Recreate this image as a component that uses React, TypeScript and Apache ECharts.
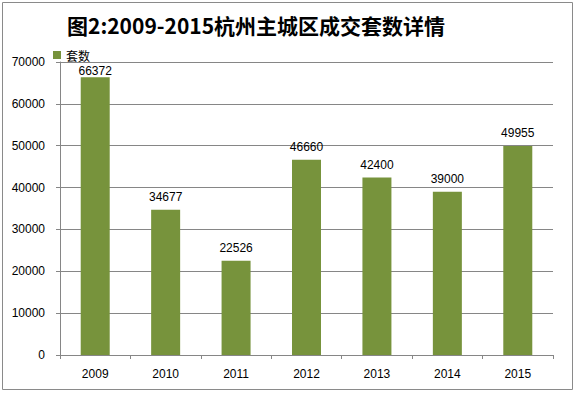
import React, { useEffect, useRef } from "react";
import * as echarts from "echarts";

const categories = ["2009", "2010", "2011", "2012", "2013", "2014", "2015"];
const values = [66372, 34677, 22526, 46660, 42400, 39000, 49955];
const seriesName = "套数";
const titleText = "图2:2009-2015杭州主城区成交套数详情";

export default function App() {
  const ref = useRef<HTMLDivElement>(null);
  useEffect(() => {
    const chart = echarts.init(ref.current!, null, { renderer: "svg" });
    chart.setOption({
      animation: false,
      backgroundColor: "#ffffff",
      graphic: [
        {
          type: "rect",
          shape: { x: 2.5, y: 2.5, width: 570, height: 387 },
          style: { fill: "none", stroke: "#8a8a8a", lineWidth: 1 },
          silent: true,
        },
      ],
      title: {
        text: titleText,
        left: 62,
        top: 9,
        textStyle: {
          fontFamily: "Noto Sans CJK SC",
          fontWeight: "bold",
          fontSize: 21,
          color: "#000",
        },
      },
      legend: {
        left: 48,
        top: 44,
        itemWidth: 8,
        itemHeight: 8,
        itemGap: 4,
        icon: "rect",
        data: [seriesName],
        textStyle: { fontFamily: "Noto Sans CJK SC", fontSize: 12, color: "#000" },
      },
      grid: { left: 60, right: 24, top: 62, bottom: 38, containLabel: false },
      xAxis: {
        type: "category",
        data: categories,
        axisLine: { lineStyle: { color: "#868686" } },
        axisTick: { show: true, length: 4, lineStyle: { color: "#868686" } },
        axisLabel: { fontFamily: "Liberation Sans", fontSize: 12, color: "#000", margin: 13 },
      },
      yAxis: {
        type: "value",
        min: 0,
        max: 70000,
        interval: 10000,
        axisLine: { show: true, lineStyle: { color: "#868686" } },
        axisTick: { show: true, length: 4, lineStyle: { color: "#868686" } },
        axisLabel: {
          fontFamily: "Liberation Sans",
          fontSize: 12,
          color: "#000",
          margin: 15,
          formatter: (v: number) => String(v),
        },
        splitLine: { lineStyle: { color: "#868686" } },
      },
      series: [
        {
          name: seriesName,
          type: "bar",
          barWidth: 29,
          itemStyle: { color: "#77933C" },
          data: values.map((v, i) =>
            i === 0 ? { value: v, label: { distance: 0 } } : v
          ),
          label: {
            show: true,
            position: "top",
            distance: 7,
            fontFamily: "Liberation Sans",
            fontSize: 12,
            color: "#000",
          },
        },
      ],
    });
    return () => chart.dispose();
  }, []);
  return <div ref={ref} style={{ width: 577, height: 393, position: "absolute", left: 0, top: 0 }} />;
}
